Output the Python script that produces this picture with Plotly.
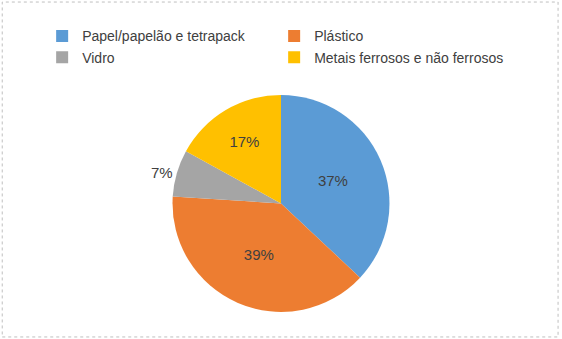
import plotly.graph_objects as go

categories = ["Papel/papelão e tetrapack", "Plástico", "Vidro", "Metais ferrosos e não ferrosos"]
values = [37, 39, 7, 17]
colors = ["#5B9BD5", "#ED7D31", "#A5A5A5", "#FFC000"]
text_positions = ["inside", "inside", "outside", "inside"]

fig = go.Figure(go.Pie(
    labels=categories,
    values=values,
    sort=False,
    direction="clockwise",
    rotation=0,
    marker=dict(colors=colors, line=dict(color="white", width=0)),
    texttemplate="%{percent:.0%}",
    textposition=text_positions,
    textfont=dict(family="Liberation Sans", size=15, color="#404040"),
    insidetextorientation="horizontal",
    domain=dict(x=[0.2, 0.8], y=[0.08, 0.72]),
    showlegend=True,
))

fig.update_layout(
    width=562, height=339,
    margin=dict(l=0, r=0, t=0, b=0),
    paper_bgcolor="white",
    plot_bgcolor="white",
    font=dict(family="Liberation Sans", size=14, color="#404040"),
    legend=dict(
        orientation="h",
        x=0.075, y=0.94, xanchor="left", yanchor="top",
        entrywidth=187, entrywidthmode="pixels",
        font=dict(size=14, color="#404040"),
        itemwidth=30,
        traceorder="normal",
    ),
    shapes=[dict(type="rect", xref="paper", yref="paper", x0=0.004, y0=0.006, x1=0.993, y1=0.994,
                 line=dict(color="#BFBFBF", width=1, dash="dot"))],
)

fig.write_html("out.html")
